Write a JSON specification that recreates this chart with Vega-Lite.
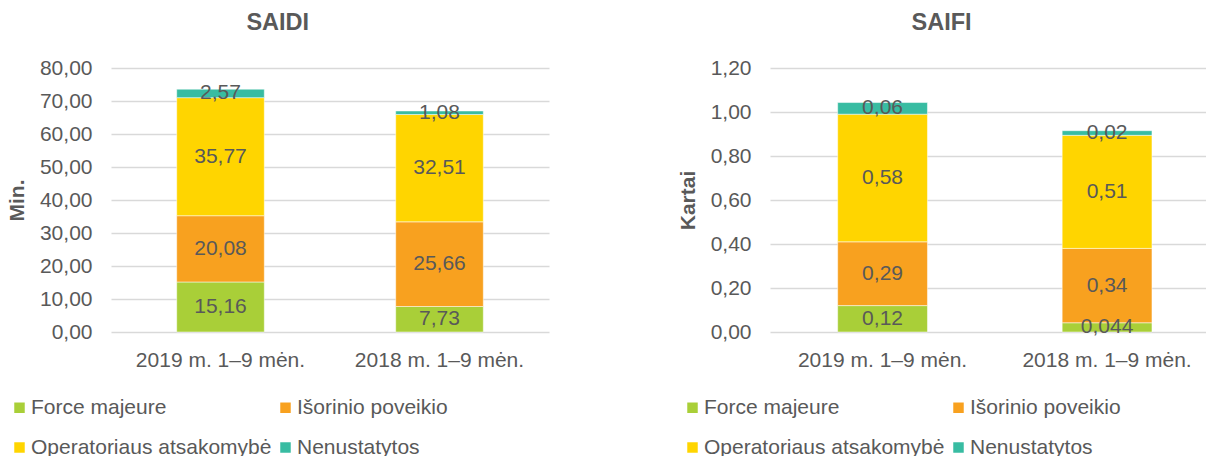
{
  "$schema": "https://vega.github.io/schema/vega-lite/v6.json",
  "background": "white",
  "padding": {"left": 6, "top": 10, "right": 0, "bottom": 0},
  "datasets": {
    "saidi": [
      {"period": "2019 m. 1–9 mėn.", "cause": "Force majeure", "ord": 1, "value": 15.16, "label": "15,16"},
      {"period": "2019 m. 1–9 mėn.", "cause": "Išorinio poveikio", "ord": 2, "value": 20.08, "label": "20,08"},
      {"period": "2019 m. 1–9 mėn.", "cause": "Operatoriaus atsakomybė", "ord": 3, "value": 35.77, "label": "35,77"},
      {"period": "2019 m. 1–9 mėn.", "cause": "Nenustatytos", "ord": 4, "value": 2.57, "label": "2,57"},
      {"period": "2018 m. 1–9 mėn.", "cause": "Force majeure", "ord": 1, "value": 7.73, "label": "7,73"},
      {"period": "2018 m. 1–9 mėn.", "cause": "Išorinio poveikio", "ord": 2, "value": 25.66, "label": "25,66"},
      {"period": "2018 m. 1–9 mėn.", "cause": "Operatoriaus atsakomybė", "ord": 3, "value": 32.51, "label": "32,51"},
      {"period": "2018 m. 1–9 mėn.", "cause": "Nenustatytos", "ord": 4, "value": 1.08, "label": "1,08"}
    ],
    "saifi": [
      {"period": "2019 m. 1–9 mėn.", "cause": "Force majeure", "ord": 1, "value": 0.12, "label": "0,12"},
      {"period": "2019 m. 1–9 mėn.", "cause": "Išorinio poveikio", "ord": 2, "value": 0.29, "label": "0,29"},
      {"period": "2019 m. 1–9 mėn.", "cause": "Operatoriaus atsakomybė", "ord": 3, "value": 0.58, "label": "0,58"},
      {"period": "2019 m. 1–9 mėn.", "cause": "Nenustatytos", "ord": 4, "value": 0.053, "label": "0,06"},
      {"period": "2018 m. 1–9 mėn.", "cause": "Force majeure", "ord": 1, "value": 0.042, "label": "0,044"},
      {"period": "2018 m. 1–9 mėn.", "cause": "Išorinio poveikio", "ord": 2, "value": 0.338, "label": "0,34"},
      {"period": "2018 m. 1–9 mėn.", "cause": "Operatoriaus atsakomybė", "ord": 3, "value": 0.514, "label": "0,51"},
      {"period": "2018 m. 1–9 mėn.", "cause": "Nenustatytos", "ord": 4, "value": 0.021, "label": "0,02"}
    ]
  },
  "hconcat": [
    {
      "data": {"name": "saidi"},
      "width": 438,
      "height": 264,
      "title": {"text": "SAIDI"},
      "encoding": {
        "x": {"field": "period", "type": "nominal", "sort": null,
              "scale": {"paddingInner": 0.6, "paddingOuter": 0.3},
              "axis": {"title": null}},
        "y": {"field": "value", "type": "quantitative", "stack": "zero",
              "scale": {"domain": [0, 80], "nice": false},
              "axis": {"title": "Min.", "values": [0, 10, 20, 30, 40, 50, 60, 70, 80], "format": ".2f"}},
        "order": {"field": "ord", "type": "quantitative"}
      },
      "layer": [
        {
          "mark": {"type": "bar", "stroke": "white", "strokeWidth": 0.5},
          "encoding": {
            "color": {"field": "cause", "type": "nominal",
                      "scale": {"domain": ["Force majeure", "Išorinio poveikio", "Operatoriaus atsakomybė", "Nenustatytos"],
                                "range": ["#A9CF38", "#F8A11F", "#FFD500", "#38BCA2"]},
                      "legend": {"orient": "none", "direction": "horizontal", "legendX": -102, "legendY": 329}}
          }
        },
        {
          "mark": {"type": "text", "fontSize": 21, "color": "#595959", "font": "Liberation Sans", "baseline": "middle"},
          "encoding": {
            "y": {"field": "value", "type": "quantitative", "stack": "zero", "bandPosition": 0.5},
            "detail": {"field": "cause"},
            "text": {"field": "label"}
          }
        }
      ]
    },
    {
      "data": {"name": "saifi"},
      "width": 436,
      "height": 264,
      "title": {"text": "SAIFI"},
      "encoding": {
        "x": {"field": "period", "type": "nominal", "sort": null,
              "scale": {"paddingInner": 0.6, "paddingOuter": 0.271, "align": 0.556},
              "axis": {"title": null}},
        "y": {"field": "value", "type": "quantitative", "stack": "zero",
              "scale": {"domain": [0, 1.2], "nice": false},
              "axis": {"title": "Kartai", "values": [0, 0.2, 0.4, 0.6, 0.8, 1.0, 1.2], "format": ".2f"}},
        "order": {"field": "ord", "type": "quantitative"}
      },
      "layer": [
        {
          "mark": {"type": "bar", "stroke": "white", "strokeWidth": 0.5},
          "encoding": {
            "color": {"field": "cause", "type": "nominal",
                      "scale": {"domain": ["Force majeure", "Išorinio poveikio", "Operatoriaus atsakomybė", "Nenustatytos"],
                                "range": ["#A9CF38", "#F8A11F", "#FFD500", "#38BCA2"]},
                      "legend": {"orient": "none", "direction": "horizontal", "legendX": -88, "legendY": 329}}
          }
        },
        {
          "mark": {"type": "text", "fontSize": 21, "color": "#595959", "font": "Liberation Sans", "baseline": "middle"},
          "encoding": {
            "y": {"field": "value", "type": "quantitative", "stack": "zero", "bandPosition": 0.5},
            "detail": {"field": "cause"},
            "text": {"field": "label"}
          }
        }
      ]
    }
  ],
  "spacing": 128,
  "resolve": {"scale": {"color": "independent"}, "legend": {"color": "independent"}},
  "config": {
    "locale": {"number": {"decimal": ",", "thousands": " ", "grouping": [3], "currency": ["", " €"]}},
    "font": "Liberation Sans",
    "view": {"stroke": null},
    "title": {"fontSize": 23.5, "fontWeight": "bold", "color": "#595959", "font": "Liberation Sans", "anchor": "middle", "frame": "bounds", "offset": 23},
    "axis": {"labelFont": "Liberation Sans", "labelFontSize": 21, "labelColor": "#595959", "titleFont": "Liberation Sans", "titleFontSize": 21, "titleFontWeight": "bold", "titleColor": "#595959", "ticks": false, "tickSize": 0, "domain": false},
    "axisX": {"labelAngle": 0, "labelPadding": 17, "grid": false},
    "axisY": {"labelPadding": 19, "titlePadding": 12, "grid": true, "gridColor": "#D9D9D9", "gridWidth": 1.5},
    "legend": {"title": null, "columns": 2, "columnPadding": 3, "rowPadding": 18, "symbolType": "square", "symbolSize": 110, "symbolStrokeWidth": 0, "labelFont": "Liberation Sans", "labelFontSize": 21, "labelColor": "#595959", "labelOffset": 1, "labelLimit": 400}
  }
}
